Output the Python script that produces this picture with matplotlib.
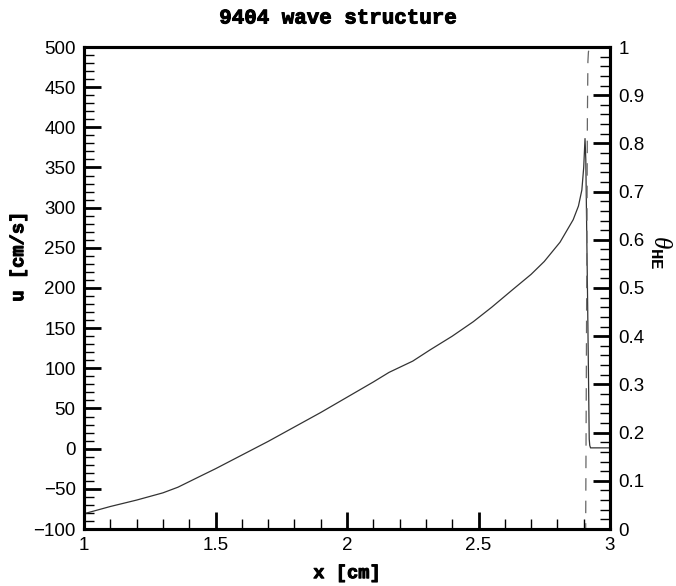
import matplotlib
matplotlib.use('Agg')
import matplotlib.pyplot as plt
import matplotlib.patheffects as pe
from matplotlib.ticker import MultipleLocator

# ── Data ──────────────────────────────────────────────────────────────────────
x_u = [1.0, 1.1, 1.2, 1.3, 1.357, 1.45, 1.5, 1.6, 1.7, 1.8, 1.9, 2.0, 2.1, 2.16,
       2.25, 2.316, 2.4, 2.48, 2.55, 2.63, 2.7, 2.75, 2.81, 2.86, 2.88, 2.893,
       2.9, 2.905, 2.908, 2.915, 2.921, 2.923, 2.926, 3.0]
u = [-81, -72, -64, -55, -48, -33, -25, -8, 9, 27, 45, 64, 83, 95,
     109, 123, 140, 158, 176, 198, 217, 233, 257, 285, 302, 322,
     350, 386, 360, 180, 12, 4, 1, 1]

x_theta = [1.0, 2.9075, 2.911, 2.914, 2.916, 2.918, 2.922, 2.93, 3.0]
theta = [0.0, 0.0, 0.45, 0.85, 0.97, 0.99, 0.997, 1.0, 1.0]

title = '9404 wave structure'
xlabel = 'x [cm]'
ylabel = 'u [cm/s]'
y2label = r'$\theta_{\mathbf{HE}}$'

# ── Style ─────────────────────────────────────────────────────────────────────
plt.rcParams['font.family'] = ['Liberation Sans', 'DejaVu Sans']
plt.rcParams['mathtext.fontset'] = 'custom'
plt.rcParams['mathtext.it'] = 'Liberation Serif:italic'
plt.rcParams['mathtext.rm'] = 'Liberation Serif'
plt.rcParams['mathtext.bf'] = 'Liberation Mono:bold'
MONO = 'Liberation Mono'
HEAVY = [pe.withStroke(linewidth=0.7, foreground='black')]

fig = plt.figure(figsize=(6.76, 5.86), dpi=100)
ax = fig.add_axes([84 / 676, 1 - 529 / 586, 526 / 676, 482 / 586])
ax2 = ax.twinx()

ax.plot(x_u, u, color='#333333', lw=0.9, zorder=3)
ax2.plot(x_theta, theta, color='#666666', lw=0.9, dashes=(10, 8), zorder=2)

ax.set_xlim(1, 3)
ax.set_ylim(-100, 500)
ax2.set_ylim(0, 1)

ax.xaxis.set_major_locator(MultipleLocator(0.5))
ax.xaxis.set_minor_locator(MultipleLocator(0.1))
ax.yaxis.set_major_locator(MultipleLocator(50))
ax.yaxis.set_minor_locator(MultipleLocator(10))
ax2.yaxis.set_major_locator(MultipleLocator(0.1))
ax2.yaxis.set_minor_locator(MultipleLocator(0.02))
ax.xaxis.set_major_formatter(lambda v, p: f'{v:g}')
ax2.yaxis.set_major_formatter(lambda v, p: f'{v:g}')

for a in (ax, ax2):
    a.tick_params(which='major', direction='in', length=12, width=2,
                  labelsize=13.5, pad=6)
    a.tick_params(which='minor', direction='in', length=7, width=1)
    for s in a.spines.values():
        s.set_linewidth(2.2)
ax.tick_params(which='both', top=False, right=False)
ax2.tick_params(which='both', left=False, right=True)

ax.set_xlabel(xlabel, family=MONO, fontweight='bold', fontsize=13.5,
              path_effects=HEAVY)
ax.xaxis.set_label_coords(0.5, -0.075)
ax.set_ylabel(ylabel, family=MONO, fontweight='bold', fontsize=13.5,
              path_effects=HEAVY)
ax.yaxis.set_label_coords(-0.108, 0.565)
ax2.set_ylabel(y2label, fontsize=18, rotation=-90)
ax2.yaxis.set_label_coords(1.12, 0.575)

fig.text(0.5, 1 - 18 / 586, title, family=MONO, fontweight='bold',
         fontsize=15, ha='center', va='center', path_effects=HEAVY)

fig.savefig('out.png', dpi=100)
